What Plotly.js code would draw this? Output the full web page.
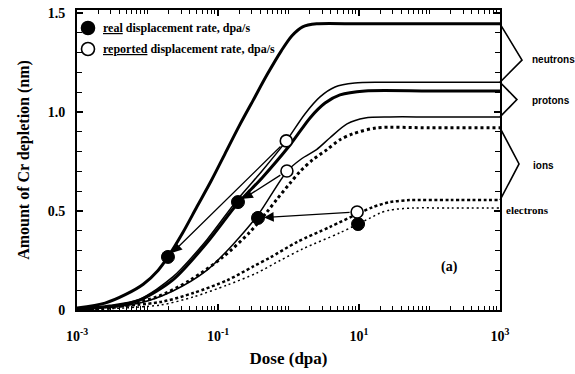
<!DOCTYPE html>
<html>
<head>
<meta charset="utf-8">
<script src="https://cdn.plot.ly/plotly-3.0.1.min.js"></script>
<style>html,body{margin:0;padding:0;background:#fff;}#chart{width:575px;height:374px;}</style>
</head>
<body>
<div id="chart"></div>
<script>
// ---- data ----
const neutronDose  = [0.001, 0.0025, 0.005, 0.0087, 0.0141, 0.0195, 0.0316, 0.05, 0.0794, 0.126, 0.2, 0.316, 0.5, 0.794, 1.12, 1.585, 2.51, 10, 100, 1000];
const neutronDepl  = [0.01, 0.035, 0.08, 0.13, 0.20, 0.268, 0.39, 0.52, 0.65, 0.79, 0.93, 1.06, 1.19, 1.31, 1.385, 1.43, 1.445, 1.445, 1.445, 1.445];

const protonThinDose = [0.001, 0.00295, 0.00776, 0.0229, 0.0692, 0.192, 0.421, 0.93, 1.71, 2.80, 4.57, 8.71, 20, 100, 1000];
const protonThinDepl = [0.005, 0.02, 0.055, 0.167, 0.354, 0.561, 0.702, 0.854, 0.99, 1.076, 1.126, 1.146, 1.15, 1.15, 1.15];

const protonThickDose = [0.001, 0.00295, 0.00776, 0.0229, 0.0692, 0.192, 0.421, 1.05, 2.02, 3.30, 5.37, 12.2, 100, 1000];
const protonThickDepl = [0.005, 0.02, 0.05, 0.152, 0.338, 0.54, 0.667, 0.833, 0.97, 1.045, 1.086, 1.106, 1.106, 1.106];

const ionThinDose = [0.001, 0.00295, 0.00776, 0.0229, 0.0692, 0.162, 0.369, 0.95, 1.55, 2.50, 3.88, 6.76, 12.2, 27.5, 100, 1000];
const ionThinDepl = [0, 0.015, 0.035, 0.096, 0.20, 0.33, 0.48, 0.70, 0.765, 0.81, 0.87, 0.94, 0.97, 0.975, 0.975, 0.975];

const ionDotDose = [0.001, 0.00295, 0.0136, 0.0401, 0.118, 0.284, 0.495, 0.687, 1.05, 1.46, 2.23, 3.52, 5.37, 8.22, 18.0, 100, 1000];
const ionDotDepl = [0, 0.01, 0.066, 0.15, 0.268, 0.394, 0.495, 0.56, 0.64, 0.70, 0.76, 0.81, 0.86, 0.89, 0.92, 0.92, 0.92];

const electronThickDose = [0.001, 0.0151, 0.0447, 0.135, 0.316, 0.55, 1.32, 3.89, 10.2, 15.8, 27.5, 52.5, 200, 1000];
const electronThickDepl = [0.005, 0.04, 0.086, 0.15, 0.22, 0.265, 0.343, 0.42, 0.49, 0.52, 0.545, 0.555, 0.555, 0.555];

const electronThinDose = [0.001, 0.0151, 0.0447, 0.135, 0.355, 0.759, 1.62, 5.37, 14.5, 20, 27.5, 58.9, 200, 1000];
const electronThinDepl = [0, 0.025, 0.066, 0.126, 0.187, 0.25, 0.31, 0.39, 0.465, 0.49, 0.505, 0.515, 0.515, 0.515];

const realDose     = [0.0195, 0.192, 0.369, 9.7];
const realDepl     = [0.268, 0.545, 0.465, 0.434];
const reportedDose = [0.93, 0.95, 9.4];
const reportedDepl = [0.854, 0.702, 0.495];

const xTickVals = [0.001, 0.1, 10, 1000];
const xTickText = ['10<sup>-3</sup>', '10<sup>-1</sup>', '10<sup>1</sup>', '10<sup>3</sup>'];
const yTickVals = [0, 0.5, 1.0, 1.5];
const yTickText = ['0', '0.5', '1.0', '1.5'];

const groupLabels = ['neutrons', 'protons', 'ions', 'electrons'];
const legendLabels = ['<b><u>real</u> displacement rate, dpa/s</b>', '<b><u>reported</u> displacement rate, dpa/s</b>'];

// minor x ticks (every 1..9 in each decade, except labelled decades)
const xMinor = [];
for (let e = -3; e < 3; e++) for (let m = 1; m <= 9; m++) {
  if (m === 1 && (e === -3 || e === -1 || e === 1)) continue;
  xMinor.push(m * Math.pow(10, e));
}

const last = a => a[a.length - 1];

function line(x, y, width, dash) {
  return {x: x, y: y, type: 'scatter', mode: 'lines', showlegend: false, hoverinfo: 'skip',
          line: {color: '#000', width: width, dash: dash, shape: 'spline', smoothing: 0.8}};
}

const traces = [
  line(neutronDose, neutronDepl, 3, 'solid'),
  line(protonThinDose, protonThinDepl, 1.5, 'solid'),
  line(protonThickDose, protonThickDepl, 3, 'solid'),
  line(ionThinDose, ionThinDepl, 1.5, 'solid'),
  line(ionDotDose, ionDotDepl, 3, '3px,3px'),
  line(electronThickDose, electronThickDepl, 2.5, '3px,2.5px'),
  line(electronThinDose, electronThinDepl, 1.5, '2px,3px'),
  {x: realDose, y: realDepl, type: 'scatter', mode: 'markers', showlegend: false,
   marker: {symbol: 'circle', size: 13, color: '#000', line: {color: '#000', width: 1}}},
  {x: reportedDose, y: reportedDepl, type: 'scatter', mode: 'markers', showlegend: false,
   marker: {symbol: 'circle', size: 12, color: '#fff', line: {color: '#000', width: 1.6}}}
];

const annotations = [];
// arrows from reported to real points
for (let i = 0; i < reportedDose.length; i++) {
  annotations.push({
    x: Math.log10(realDose[i]), y: realDepl[i], xref: 'x', yref: 'y',
    ax: Math.log10(reportedDose[i]), ay: reportedDepl[i], axref: 'x', ayref: 'y',
    showarrow: true, arrowhead: 2, arrowsize: 1.5, arrowwidth: 1.3, arrowcolor: '#000',
    standoff: 6, startstandoff: 6, text: ''
  });
}
const labelFont = {family: 'Liberation Sans, Arial, sans-serif', size: 10, color: '#000', weight: 'bold'};
const labelPos = [[1.071, 0.835], [1.071, 0.700], [1.073, 0.483], [1.009, 0.333]];
groupLabels.forEach((t, i) => annotations.push({
  text: '<b>' + t + '</b>', xref: 'paper', yref: 'paper', x: labelPos[i][0], y: labelPos[i][1],
  xanchor: 'left', yanchor: 'middle', showarrow: false,
  font: i === 3 ? {family: 'Liberation Serif, serif', size: 11, color: '#000', weight: 'bold'} : labelFont
}));
const legY = [0.94, 0.87];
legendLabels.forEach((t, i) => annotations.push({
  text: t, xref: 'paper', yref: 'paper', x: 0.057, y: legY[i], xanchor: 'left', yanchor: 'middle',
  showarrow: false, font: {family: 'Liberation Serif, serif', size: 12, color: '#000', weight: 'bold'}
}));
annotations.push({
  text: '<b>(a)</b>', xref: 'paper', yref: 'paper', x: 0.905, y: 0.11, showarrow: false,
  font: {family: 'Liberation Serif, serif', size: 14, color: '#000', weight: 'bold'}
});

const shapes = [];
// legend symbols
legY.forEach((yy, i) => shapes.push({
  type: 'circle', xref: 'paper', yref: 'paper', xsizemode: 'pixel', ysizemode: 'pixel',
  xanchor: 0.026, yanchor: yy, x0: -6.5, x1: 6.5, y0: -6.5, y1: 6.5,
  fillcolor: i === 0 ? '#000' : '#fff', line: {color: '#000', width: 1.6}
}));
// braces built from plateau values
const braces = [
  [last(neutronDepl), last(protonThinDepl), 1.052, 0.62],
  [last(protonThinDepl), last(ionThinDepl), 1.040, 0.5],
  [last(ionDotDepl), last(electronThickDepl), 1.045, 0.5]
];
braces.forEach(b => {
  const tip = b[0] - b[3] * (b[0] - b[1]);
  shapes.push({type: 'path', xref: 'paper', yref: 'y',
    path: 'M 1,' + b[0] + ' L ' + b[2] + ',' + tip + ' L 1,' + b[1],
    line: {color: '#000', width: 1.6}});
});

const tickFont = {family: 'Liberation Serif, serif', size: 14, color: '#000', weight: 'bold'};
const layout = {
  width: 575, height: 374,
  margin: {l: 77, r: 75, t: 10, b: 64},
  paper_bgcolor: '#fff', plot_bgcolor: '#fff',
  showlegend: false,
  xaxis: {
    type: 'log', range: [-3, 3], showgrid: false, zeroline: false,
    showline: true, linecolor: '#000', linewidth: 2, mirror: 'ticks',
    ticks: 'inside', ticklen: 6, tickwidth: 1.3, tickcolor: '#000',
    tickmode: 'array', tickvals: xTickVals, ticktext: xTickText,
    tickfont: tickFont, ticklabelstandoff: 12,
    minor: {tickmode: 'array', tickvals: xMinor, ticks: 'inside', ticklen: 4, tickwidth: 1, tickcolor: '#000', showgrid: false},
    title: {text: 'Dose (dpa)', font: {family: 'Liberation Serif, serif', size: 17, color: '#000', weight: 'bold'}, standoff: 9}
  },
  yaxis: {
    range: [0, 1.515], showgrid: false, zeroline: false,
    showline: true, linecolor: '#000', linewidth: 2, mirror: 'ticks',
    ticks: 'inside', ticklen: 6, tickwidth: 1.3, tickcolor: '#000',
    tickmode: 'array', tickvals: yTickVals, ticktext: yTickText,
    tickfont: tickFont, ticklabelstandoff: 7,
    minor: {dtick: 0.1, ticks: 'inside', ticklen: 5, tickwidth: 1, tickcolor: '#000', showgrid: false},
    title: {text: 'Amount of Cr depletion (nm)', font: {family: 'Liberation Serif, serif', size: 16, color: '#000', weight: 'bold'}, standoff: 14}
  },
  annotations: annotations,
  shapes: shapes
};

Plotly.newPlot('chart', traces, layout, {displayModeBar: false, staticPlot: true});
</script>
</body>
</html>
